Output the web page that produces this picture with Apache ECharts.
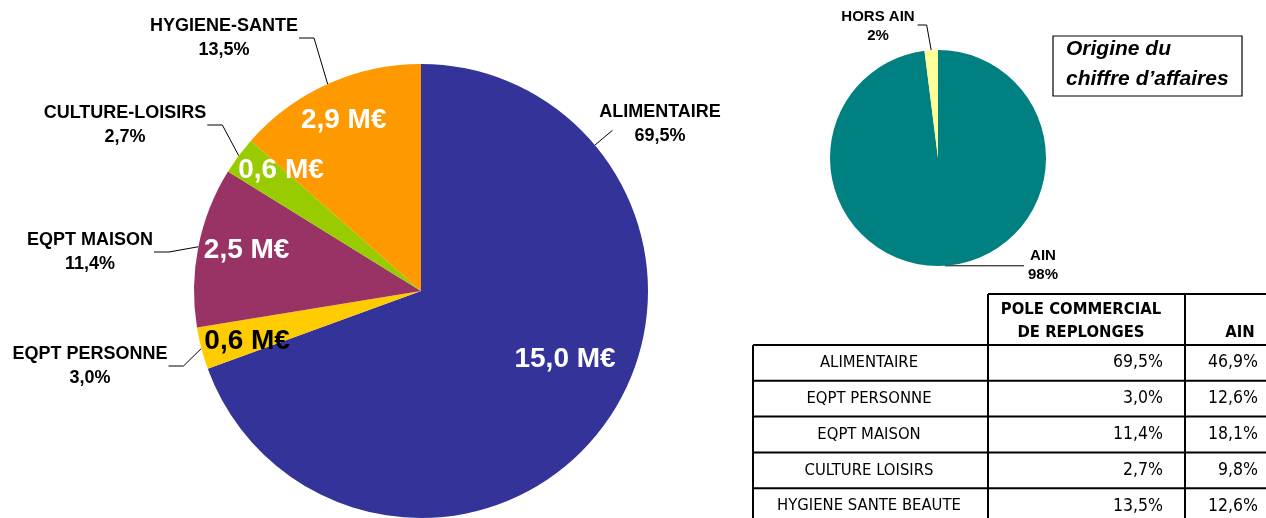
<!DOCTYPE html>
<html>
<head>
<meta charset="utf-8">
<script src="https://cdn.jsdelivr.net/npm/echarts@6.0.0/dist/echarts.min.js"></script>
<style>
  html, body { margin: 0; padding: 0; background: #fff; }
  #chart { width: 1266px; height: 518px; }
</style>
</head>
<body>
<div id="chart"></div>
<script>
// secteurs du pole commercial
const secteurs = ['ALIMENTAIRE', 'EQPT PERSONNE', 'EQPT MAISON', 'CULTURE-LOISIRS', 'HYGIENE-SANTE']
const partsPole = [69.5, 3.0, 11.4, 2.7, 13.5]
const montants = [15.0, 0.6, 2.5, 0.6, 2.9] // M€
const couleurs = ['#333399', '#FFCC00', '#993366', '#99CC00', '#FF9900']

// origine du chiffre d'affaires
const origines = ['AIN', 'HORS AIN']
const partsOrigine = [98, 2]
const couleursOrigine = ['#008080', '#FFFF99']

// tableau de comparaison
const lignesTableau = ['ALIMENTAIRE', 'EQPT PERSONNE', 'EQPT MAISON', 'CULTURE LOISIRS', 'HYGIENE SANTE BEAUTE']
const colPole = [69.5, 3.0, 11.4, 2.7, 13.5]
const colAin = [46.9, 12.6, 18.1, 9.8, 12.6]

// geometrie
const CX = 421, CY = 291, R = 227
const CX2 = 938, CY2 = 158, R2 = 108
const FONT = 'Liberation Sans, Arial, sans-serif'
const FONT_TAB = '"DejaVu Sans Condensed", "DejaVu Sans", sans-serif'

const fmt = v => v.toFixed(1).replace('.', ',')

// angle du milieu d'une part (sens horaire depuis midi)
const milieu = (vals, i) => {
  const total = vals.reduce((a, b) => a + b, 0)
  const avant = vals.slice(0, i).reduce((a, b) => a + b, 0)
  return (90 - (avant + vals[i] / 2) / total * 360) * Math.PI / 180
}
const bord = (cx, cy, r, a) => [cx + r * Math.cos(a), cy - r * Math.sin(a)]

// emplacement des etiquettes exterieures
const posEtiquettes = [[660, 124], [90, 366], [90, 252], [125, 125], [224, 38]]
const posOrigine = [[1043, 265], [878, 26]]
// decalage des montants dans les parts
const decalMontants = [[-10, -39], [8, 3], [10, -4], [11, -9], [0, 1]]

// tableau en elements graphiques
const buildTable = () => {
  const els = []
  const c0 = 753, c1 = 988, c2 = 1185, c3 = 1300
  const yTop = 294, y0 = 345, h = 35.8
  const line = (x1, y1, x2, y2) => ({
    type: 'line', shape: { x1, y1, x2, y2 }, style: { stroke: '#000', lineWidth: 2 }, silent: true
  })
  const text = (t, x, y, align, font) => ({
    type: 'text', x, y, silent: true,
    style: { text: t, font, fill: '#000', align, verticalAlign: 'middle', textAlign: align, textVerticalAlign: 'middle', lineHeight: 23 }
  })
  const yBas = y0 + h * lignesTableau.length
  els.push(line(c1, yTop, c3, yTop))
  els.push(line(c1, yTop, c1, yBas))
  els.push(line(c2, yTop, c2, yBas))
  els.push(line(c0, y0, c0, yBas))
  for (let i = 0; i <= lignesTableau.length; i++) {
    els.push(line(c0, y0 + h * i, c3, y0 + h * i))
  }
  els.push(text('POLE COMMERCIAL\nDE REPLONGES', 1081, 321, 'center', 'bold 16.5px ' + FONT_TAB))
  els.push(text('AIN', 1240, 333, 'center', 'bold 16.5px ' + FONT_TAB))
  lignesTableau.forEach((l, i) => {
    const ym = y0 + h * i + h / 2
    els.push(text(l, 869, ym, 'center', '16.5px ' + FONT_TAB))
    els.push(text(fmt(colPole[i]) + '%', 1163, ym, 'right', '17.5px ' + FONT_TAB))
    els.push(text(fmt(colAin[i]) + '%', 1258, ym, 'right', '17.5px ' + FONT_TAB))
  })
  // cadre "Origine du chiffre d'affaires"
  els.push({
    type: 'rect', shape: { x: 1053, y: 36, width: 189, height: 60 }, silent: true,
    style: { fill: 'none', stroke: '#000', lineWidth: 1.2 }
  })
  els.push({
    type: 'text', x: 1066, y: 64, silent: true,
    style: {
      text: 'Origine du\nchiffre d\u2019affaires', font: 'italic bold 21px ' + FONT, fill: '#000',
      align: 'left', verticalAlign: 'middle', textAlign: 'left', textVerticalAlign: 'middle', lineHeight: 30
    }
  })
  return els
}

const chart = echarts.init(document.getElementById('chart'))

const option = {
  animation: false,
  backgroundColor: '#fff',
  graphic: buildTable(),
  series: [
    {
      // repartition par secteur
      type: 'pie',
      center: [CX, CY],
      radius: R,
      startAngle: 90,
      clockwise: true,
      avoidLabelOverlap: false,
      emphasis: { disabled: true },
      itemStyle: { borderWidth: 0 },
      data: secteurs.map((n, i) => ({ name: n, value: partsPole[i], itemStyle: { color: couleurs[i] } })),
      label: {
        show: true,
        position: 'outside',
        formatter: p => p.name + '\n' + fmt(p.value) + '%',
        fontFamily: FONT,
        fontWeight: 'bold',
        fontSize: 18,
        lineHeight: 24,
        color: '#000',
        overflow: 'none'
      },
      labelLine: { show: true, smooth: false, lineStyle: { color: '#000', width: 1 } },
      labelLayout: p => {
        const i = p.dataIndex
        const [x, y] = posEtiquettes[i]
        const w = p.labelRect.width
        let pts
        if (i === 0) {
          const a = 40 * Math.PI / 180
          pts = [bord(CX, CY, R, a), bord(CX, CY, R + 23, a), bord(CX, CY, R + 23, a)]
        } else {
          pts = [bord(CX, CY, R, milieu(partsPole, i)), [x + w / 2 + 16, y], [x + w / 2 + 1, y]]
        }
        return { x, y, align: 'center', verticalAlign: 'middle', labelLinePoints: pts }
      }
    },
    {
      // montants en M€ dans les parts
      type: 'pie',
      center: [CX, CY],
      radius: [143, R],
      startAngle: 90,
      clockwise: true,
      silent: true,
      avoidLabelOverlap: false,
      itemStyle: { color: 'rgba(0,0,0,0)', borderWidth: 0 },
      data: secteurs.map((n, i) => ({ name: n, value: partsPole[i], label: { color: i === 1 ? '#000' : '#fff' } })),
      label: {
        show: true,
        position: 'inside',
        formatter: p => fmt(montants[p.dataIndex]) + ' M\u20ac',
        fontFamily: FONT,
        fontWeight: 'bold',
        fontSize: 28,
        overflow: 'none'
      },
      labelLine: { show: false },
      labelLayout: p => ({ dx: decalMontants[p.dataIndex][0], dy: decalMontants[p.dataIndex][1] })
    },
    {
      // origine du CA
      type: 'pie',
      center: [CX2, CY2],
      radius: R2,
      startAngle: 90,
      clockwise: true,
      avoidLabelOverlap: false,
      emphasis: { disabled: true },
      itemStyle: { borderWidth: 0 },
      data: origines.map((n, i) => ({ name: n, value: partsOrigine[i], itemStyle: { color: couleursOrigine[i] } })),
      label: {
        show: true,
        position: 'outside',
        formatter: p => p.name + '\n' + p.value + '%',
        fontFamily: FONT,
        fontWeight: 'bold',
        fontSize: 15,
        lineHeight: 19,
        color: '#000',
        overflow: 'none'
      },
      labelLine: { show: true, smooth: false, lineStyle: { color: '#000', width: 1 } },
      labelLayout: p => {
        const i = p.dataIndex
        const [x, y] = posOrigine[i]
        const w = p.labelRect.width
        const p0 = bord(CX2, CY2, R2, milieu(partsOrigine, i))
        let pts
        if (i === 0) {
          pts = [p0, [x - w / 2 - 4, p0[1]], [x - w / 2 - 4, p0[1]]]
        } else {
          pts = [p0, [x + w / 2 + 12, y - 1], [x + w / 2 + 3, y - 1]]
        }
        return { x, y, align: 'center', verticalAlign: 'middle', labelLinePoints: pts }
      }
    }
  ]
}

chart.setOption(option)
</script>
</body>
</html>
